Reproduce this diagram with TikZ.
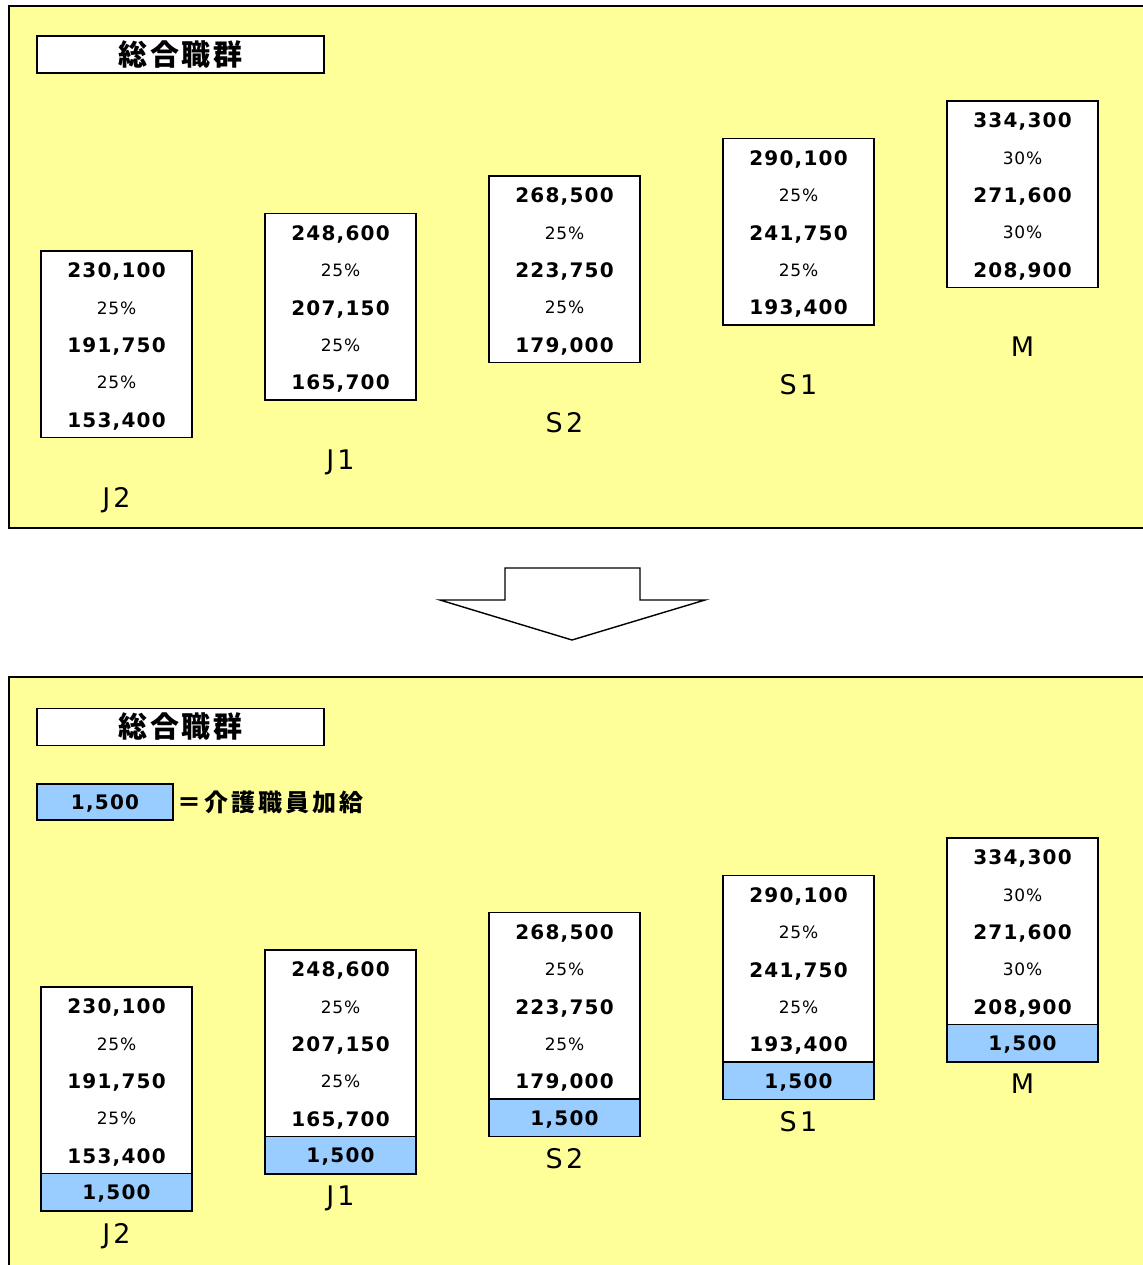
\documentclass[tikz,border=0pt]{standalone}
\usepackage{fontspec}
\setmainfont{Noto Sans CJK JP}
\newfontfamily\jpfont{Noto Sans CJK JP}[LetterSpace=10]
\newfontfamily\legfont{Noto Sans CJK JP}[LetterSpace=13]
\newfontfamily\numfont{DejaVu Sans}[LetterSpace=6]
\newfontfamily\pctfont{DejaVu Sans}[LetterSpace=5]
\newfontfamily\labfont{DejaVu Sans}[LetterSpace=12]
\definecolor{panelyellow}{HTML}{FFFF99}
\definecolor{cellblue}{HTML}{99CCFF}
\tikzset{
  panel/.style={draw=black, line width=1.6pt, fill=panelyellow},
  titlebox/.style={draw=black, line width=1.3pt, fill=white, minimum width=287pt, minimum height=37pt, inner sep=0pt,
    font=\jpfont\bfseries\fontsize{29}{32}\selectfont},
  cellbox/.style={draw=black, line width=1.3pt, fill=white, minimum width=151pt, minimum height=186.6pt, inner sep=0pt},
  bluebox/.style={draw=black, line width=1.3pt, fill=cellblue, minimum width=151pt, minimum height=37.3pt, inner sep=0pt,
    font=\numfont\bfseries\fontsize{20}{22}\selectfont},
  num/.style={inner sep=0pt, text depth=0pt, font=\numfont\bfseries\fontsize{20}{22}\selectfont},
  pct/.style={inner sep=0pt, text depth=0pt, font=\pctfont\fontsize{17}{19}\selectfont},
  lab/.style={inner sep=0pt, text depth=0pt, font=\labfont\fontsize{27}{29}\selectfont},
  legendtext/.style={inner sep=0pt, anchor=west, font=\legfont\bfseries\fontsize{24}{26}\selectfont},
  bigarrow/.style={draw=black, line width=1.4pt, fill=white, line join=miter},
}
% #1 name, #2 centre x, #3 top y, #4 #5 #6 values, #7 percentage, #8 label
\newcommand\salcol[8]{%
  \node[cellbox] (#1box) at (#2,#3+93.3) {};
  \node[num] (#1va) at (#2,#3+19.5) {#4};
  \node[pct] (#1pa) at (#2,#3+57) {#7\%};
  \node[num] (#1vb) at (#2,#3+94.3) {#5};
  \node[pct] (#1pb) at (#2,#3+131.6) {#7\%};
  \node[num] (#1vc) at (#2,#3+169) {#6};
  \node[lab] (#1lab) at (#2,#3+246) {#8};
}
% #1 name, #2 centre x, #3 top y of the white box
\newcommand\addblue[3]{%
  \node[bluebox, text depth=0pt] (#1blue) at (#2,#3+186.6+18.65) {1,500};
}
\begin{document}
\begin{tikzpicture}[x=1pt,y=-1pt]
\useasboundingbox (0,0) rectangle (1142,1265);
% top panel
\draw[panel] (9,6) rectangle (1152,528);
\node[titlebox] (ttitle) at (180.5,54.5) {総合職群};
\salcol{tJ2}{116.5}{251}{230,100}{191,750}{153,400}{25}{J2}
\salcol{tJ1}{340.5}{213.5}{248,600}{207,150}{165,700}{25}{J1}
\salcol{tS2}{564.5}{176}{268,500}{223,750}{179,000}{25}{S2}
\salcol{tS1}{798.5}{138.5}{290,100}{241,750}{193,400}{25}{S1}
\salcol{tM}{1022.5}{101}{334,300}{271,600}{208,900}{30}{M}
% arrow
\draw[bigarrow] (505,600) -- (505,568) -- (640,568) -- (640,600) -- (705,600) -- (572,640) -- (440,600) -- cycle;
% bottom panel
\draw[panel] (9,677) rectangle (1152,1280);
\node[titlebox] (btitle) at (180.5,727) {総合職群};
\node[bluebox, text depth=0pt, minimum width=136pt, minimum height=36pt] (legendbox) at (105,802) {1,500};
\node[legendtext] (legendlab) at (177,802) {＝介護職員加給};
\salcol{bJ2}{116.5}{987}{230,100}{191,750}{153,400}{25}{J2}
\addblue{bJ2}{116.5}{987}
\salcol{bJ1}{340.5}{950}{248,600}{207,150}{165,700}{25}{J1}
\addblue{bJ1}{340.5}{950}
\salcol{bS2}{564.5}{912.5}{268,500}{223,750}{179,000}{25}{S2}
\addblue{bS2}{564.5}{912.5}
\salcol{bS1}{798.5}{875.5}{290,100}{241,750}{193,400}{25}{S1}
\addblue{bS1}{798.5}{875.5}
\salcol{bM}{1022.5}{838}{334,300}{271,600}{208,900}{30}{M}
\addblue{bM}{1022.5}{838}
\end{tikzpicture}
\end{document}
